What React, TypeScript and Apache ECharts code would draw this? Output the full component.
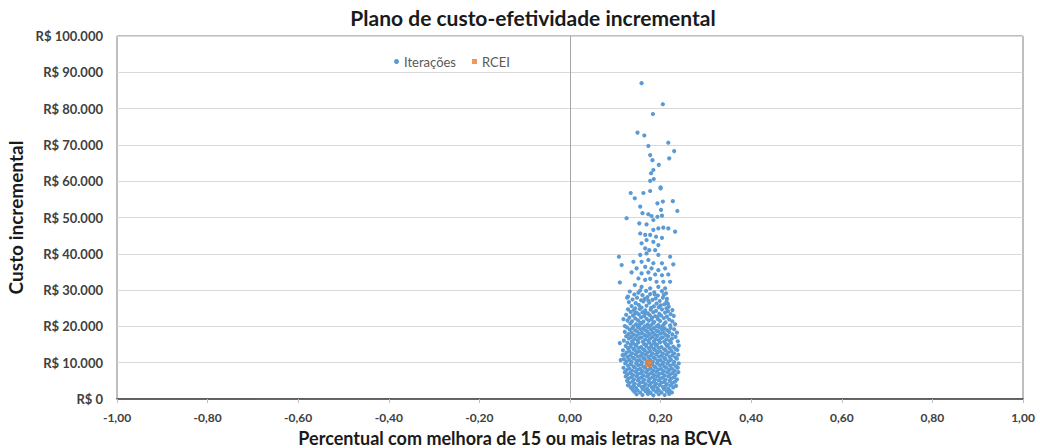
import React, { useEffect, useRef } from "react";
import * as echarts from "echarts";

const chartTitle = "Plano de custo-efetividade incremental";
const xAxisTitle = "Percentual com melhora de 15 ou mais letras na BCVA";
const yAxisTitle = "Custo incremental";
const seriesNames = ["Iterações", "RCEI"];

const xMin = -1;
const xMax = 1;
const xStep = 0.2;
const yMin = 0;
const yMax = 100000;
const yStep = 10000;

// Iterações: [efetividade incremental, custo incremental]
const pointsAbove55k: number[][] = [
  [0.158, 87000], [0.205, 81200], [0.183, 78500], [0.149, 73400], [0.164, 72600],
  [0.217, 70600], [0.173, 69700], [0.230, 68300], [0.177, 67200], [0.219, 66300],
  [0.182, 65800], [0.196, 64500], [0.184, 63100], [0.179, 62200], [0.185, 60600],
  [0.177, 60100], [0.200, 58300], [0.134, 56750], [0.162, 56750], [0.177, 57300],
  [0.200, 58000], [0.143, 55300],
];

const points30kTo55k: number[][] = [
  [0.193, 53900], [0.205, 54400], [0.227, 54500], [0.155, 53000], [0.201, 52100],
  [0.237, 51800], [0.160, 51200], [0.173, 50900], [0.180, 50400], [0.193, 50200],
  [0.203, 50500], [0.125, 49800], [0.184, 49300], [0.153, 48400], [0.169, 48100],
  [0.195, 47000], [0.206, 47200], [0.217, 47000], [0.184, 46600], [0.232, 46100],
  [0.155, 45600], [0.166, 45200], [0.177, 45200], [0.190, 44700], [0.203, 44400],
  [0.169, 43800], [0.184, 43300], [0.158, 42900], [0.195, 42400], [0.166, 41500],
  [0.175, 41000], [0.188, 41000], [0.155, 39700], [0.169, 40100], [0.195, 39700],
  [0.108, 39200], [0.221, 39200], [0.140, 37800], [0.158, 37800], [0.173, 38300],
  [0.184, 37400], [0.203, 37400], [0.114, 36900], [0.228, 37100], [0.147, 36000],
  [0.166, 36400], [0.180, 36000], [0.195, 35500], [0.210, 36000], [0.136, 34900],
  [0.158, 34600], [0.173, 34900], [0.188, 34300], [0.203, 34100], [0.217, 34300],
  [0.110, 32100], [0.151, 33200], [0.166, 32800], [0.177, 33100], [0.191, 32300],
  [0.206, 32300], [0.221, 32300], [0.143, 31400], [0.158, 30900], [0.177, 30500],
  [0.195, 30900], [0.210, 30500],
];

const points25kTo30k: number[][] = [
  [0.132, 29600], [0.151, 29300], [0.168, 29800], [0.186, 29400], [0.203, 29700],
  [0.212, 29100], [0.142, 28800], [0.160, 28600], [0.177, 28900], [0.194, 28500],
  [0.207, 28700], [0.128, 28200], [0.148, 27900], [0.171, 28100], [0.189, 27700],
  [0.205, 27900], [0.214, 27600], [0.138, 27400], [0.157, 27200], [0.165, 27600],
  [0.182, 27300], [0.198, 27000], [0.213, 26800], [0.130, 26700], [0.145, 26400],
  [0.162, 26900], [0.175, 26500], [0.191, 26300], [0.208, 26100], [0.152, 25900],
  [0.169, 25700], [0.185, 25500], [0.200, 25800], [0.218, 25400], [0.136, 25600],
  [0.158, 25200], [0.179, 25100], [0.196, 25300], [0.213, 25000], [0.144, 25000],
  [0.173, 27100], [0.187, 28800], [0.155, 29900], [0.216, 26200], [0.126, 27900],
];

const points20kTo25k: number[][] = [
  [0.128, 24700], [0.141, 24500], [0.154, 24800], [0.166, 24400], [0.178, 24600],
  [0.190, 24300], [0.203, 24700], [0.216, 24200], [0.226, 24500], [0.134, 24000],
  [0.147, 23800], [0.160, 23900], [0.172, 23600], [0.184, 23900], [0.197, 23500],
  [0.210, 23800], [0.222, 23400], [0.124, 23200], [0.139, 23000], [0.152, 23300],
  [0.164, 22900], [0.176, 23100], [0.188, 22800], [0.201, 23000], [0.214, 22700],
  [0.229, 22900], [0.131, 22400], [0.144, 22200], [0.157, 22500], [0.169, 22100],
  [0.181, 22400], [0.194, 22000], [0.207, 22300], [0.219, 21900], [0.127, 21600],
  [0.137, 21400], [0.150, 21700], [0.162, 21300], [0.174, 21600], [0.186, 21200],
  [0.199, 21500], [0.211, 21100], [0.226, 21400], [0.133, 20800], [0.146, 20600],
  [0.158, 20900], [0.171, 20500], [0.183, 20800], [0.195, 20400], [0.208, 20700],
  [0.221, 20300], [0.121, 20100], [0.140, 20000], [0.153, 20200], [0.165, 20000],
  [0.178, 20200], [0.191, 20000], [0.204, 20100], [0.232, 20600], [0.167, 23700],
  [0.180, 21900], [0.155, 21000], [0.193, 22600], [0.143, 23500], [0.118, 22000],
];

const points15kTo20k: number[][] = [
  [0.126, 19700], [0.138, 19500], [0.150, 19800], [0.161, 19400], [0.173, 19700],
  [0.185, 19500], [0.197, 19800], [0.209, 19400], [0.222, 19600], [0.132, 19100],
  [0.144, 18900], [0.156, 19200], [0.167, 18900], [0.179, 19100], [0.191, 18800],
  [0.203, 19100], [0.215, 18900], [0.230, 19200], [0.121, 18500], [0.136, 18300],
  [0.148, 18600], [0.159, 18200], [0.171, 18500], [0.183, 18300], [0.195, 18600],
  [0.207, 18200], [0.219, 18500], [0.236, 18300], [0.129, 17900], [0.141, 17700],
  [0.153, 18000], [0.165, 17600], [0.176, 17900], [0.188, 17700], [0.200, 18000],
  [0.212, 17600], [0.226, 17800], [0.124, 17300], [0.135, 17100], [0.147, 17400],
  [0.158, 17000], [0.170, 17300], [0.182, 17100], [0.193, 17400], [0.205, 17000],
  [0.217, 17300], [0.233, 17100], [0.130, 16700], [0.142, 16500], [0.154, 16800],
  [0.166, 16400], [0.177, 16700], [0.189, 16500], [0.201, 16800], [0.213, 16400],
  [0.225, 16600], [0.119, 16100], [0.137, 15900], [0.149, 16200], [0.161, 15800],
  [0.173, 16100], [0.185, 15900], [0.196, 16200], [0.208, 15800], [0.220, 16100],
  [0.238, 15900], [0.127, 15500], [0.140, 15300], [0.151, 15600], [0.163, 15200],
  [0.175, 15500], [0.187, 15300], [0.199, 15600], [0.211, 15200], [0.223, 15500],
  [0.134, 15000], [0.146, 14900], [0.168, 15000], [0.180, 14900], [0.192, 15000],
  [0.216, 14900], [0.110, 15400],
];

const points10kTo15k: number[][] = [
  [0.123, 14600], [0.134, 14400], [0.145, 14700], [0.157, 14300], [0.168, 14600],
  [0.179, 14400], [0.190, 14700], [0.202, 14300], [0.214, 14600], [0.228, 14400],
  [0.240, 14700], [0.128, 14000], [0.140, 13800], [0.151, 14100], [0.162, 13700],
  [0.174, 14000], [0.185, 13800], [0.196, 14100], [0.208, 13700], [0.220, 14000],
  [0.233, 13800], [0.117, 13400], [0.131, 13200], [0.143, 13500], [0.154, 13100],
  [0.165, 13400], [0.177, 13200], [0.188, 13500], [0.199, 13100], [0.211, 13400],
  [0.224, 13200], [0.237, 13500], [0.125, 12800], [0.137, 12600], [0.148, 12900],
  [0.160, 12500], [0.171, 12800], [0.182, 12600], [0.194, 12900], [0.205, 12500],
  [0.217, 12800], [0.230, 12600], [0.121, 12200], [0.133, 12000], [0.145, 12300],
  [0.156, 11900], [0.167, 12200], [0.179, 12000], [0.190, 12300], [0.202, 11900],
  [0.213, 12200], [0.226, 12000], [0.239, 12200], [0.127, 11600], [0.139, 11400],
  [0.150, 11700], [0.162, 11300], [0.173, 11600], [0.185, 11400], [0.196, 11700],
  [0.208, 11300], [0.220, 11600], [0.233, 11400], [0.119, 11000], [0.131, 10800],
  [0.142, 11100], [0.154, 10700], [0.165, 11000], [0.177, 10800], [0.188, 11100],
  [0.200, 10700], [0.211, 11000], [0.223, 10800], [0.236, 11100], [0.125, 10400],
  [0.136, 10200], [0.148, 10500], [0.159, 10100], [0.171, 10400], [0.183, 10200],
  [0.194, 10500], [0.206, 10100], [0.218, 10400], [0.230, 10200], [0.116, 12100],
  [0.112, 10700],
];

const points5kTo10k: number[][] = [
  [0.122, 9800], [0.134, 9600], [0.146, 9900], [0.157, 9500], [0.169, 9800],
  [0.181, 9600], [0.192, 9900], [0.204, 9500], [0.215, 9800], [0.228, 9600],
  [0.240, 9800], [0.128, 9200], [0.140, 9000], [0.151, 9300], [0.163, 8900],
  [0.175, 9200], [0.186, 9000], [0.198, 9300], [0.209, 8900], [0.221, 9200],
  [0.234, 9000], [0.118, 8600], [0.131, 8400], [0.143, 8700], [0.155, 8300],
  [0.166, 8600], [0.178, 8400], [0.189, 8700], [0.201, 8300], [0.213, 8600],
  [0.225, 8400], [0.238, 8600], [0.125, 8000], [0.137, 7800], [0.149, 8100],
  [0.160, 7700], [0.172, 8000], [0.184, 7800], [0.195, 8100], [0.207, 7700],
  [0.219, 8000], [0.231, 7800], [0.121, 7400], [0.133, 7200], [0.145, 7500],
  [0.156, 7100], [0.168, 7400], [0.180, 7200], [0.191, 7500], [0.203, 7100],
  [0.215, 7400], [0.227, 7200], [0.239, 7400], [0.127, 6800], [0.139, 6600],
  [0.150, 6900], [0.162, 6500], [0.174, 6800], [0.186, 6600], [0.197, 6900],
  [0.209, 6500], [0.221, 6800], [0.233, 6600], [0.123, 6200], [0.135, 6000],
  [0.147, 6300], [0.158, 5900], [0.170, 6200], [0.182, 6000], [0.193, 6300],
  [0.205, 5900], [0.217, 6200], [0.229, 6000], [0.129, 5600], [0.141, 5400],
  [0.152, 5700], [0.164, 5300], [0.176, 5600], [0.188, 5400], [0.199, 5700],
  [0.211, 5300], [0.223, 5600], [0.236, 5400],
];

const points0To5k: number[][] = [
  [0.126, 5000], [0.138, 4800], [0.150, 5100], [0.161, 4700], [0.173, 5000],
  [0.185, 4800], [0.196, 5100], [0.208, 4700], [0.220, 5000], [0.232, 4800],
  [0.131, 4400], [0.143, 4200], [0.155, 4500], [0.167, 4100], [0.179, 4400],
  [0.190, 4200], [0.202, 4500], [0.214, 4100], [0.226, 4400], [0.128, 3800],
  [0.140, 3600], [0.152, 3900], [0.163, 3500], [0.175, 3800], [0.187, 3600],
  [0.198, 3900], [0.210, 3500], [0.222, 3800], [0.234, 3600], [0.134, 3200],
  [0.146, 3000], [0.158, 3300], [0.170, 2900], [0.181, 3200], [0.193, 3000],
  [0.205, 3300], [0.217, 2900], [0.228, 3200], [0.138, 2600], [0.149, 2400],
  [0.161, 2700], [0.173, 2300], [0.184, 2600], [0.196, 2400], [0.208, 2700],
  [0.220, 2300], [0.142, 2000], [0.155, 1800], [0.167, 2100], [0.178, 1700],
  [0.190, 2000], [0.202, 1800], [0.214, 2100], [0.225, 1800], [0.147, 1300],
  [0.160, 1100], [0.172, 1400], [0.184, 1000], [0.196, 1300], [0.209, 1100],
  [0.219, 1400],
];

// RCEI: [efetividade incremental, custo incremental]
const rceiPoint: number[][] = [[0.174, 9800]];

const formatCurrency = (v: number) =>
  "R$ " + String(Math.round(v)).replace(/\B(?=(\d{3})+(?!\d))/g, ".");
const formatDecimal = (v: number) =>
  Math.abs(v) < 1e-9 ? "0,00" : v.toFixed(2).replace(".", ",");

const FONT = "Lato, 'Noto Sans', sans-serif";

export default function App() {
  const ref = useRef<HTMLDivElement>(null);

  useEffect(() => {
    if (!ref.current) return;
    const chart = echarts.init(ref.current, null, { renderer: "svg" });
    const iteracoes = [
      ...pointsAbove55k,
      ...points30kTo55k,
      ...points25kTo30k,
      ...points20kTo25k,
      ...points15kTo20k,
      ...points10kTo15k,
      ...points5kTo10k,
      ...points0To5k,
    ];
    chart.setOption({
      animation: false,
      backgroundColor: "#ffffff",
      textStyle: { fontFamily: FONT },
      title: {
        text: chartTitle,
        left: 533,
        textAlign: "center",
        top: 2,
        padding: [5, 0, 5, 0],
        textStyle: { fontFamily: FONT, fontSize: 21, fontWeight: "bold", color: "#1a1a1a" },
      },
      legend: {
        left: 389,
        top: 50,
        itemGap: 16,
        itemWidth: 5,
        itemHeight: 5,
        textStyle: { fontFamily: FONT, fontSize: 13, color: "#595959" },
        data: [
          { name: seriesNames[0], icon: "circle" },
          { name: seriesNames[1], icon: "rect" },
        ],
      },
      grid: {
        left: 117,
        right: 17,
        top: 36,
        bottom: 49,
        outerBoundsMode: "none",
        containLabel: false,
        show: true,
        borderColor: "#7f7f7f",
        borderWidth: 1,
        backgroundColor: "transparent",
      },
      xAxis: {
        type: "value",
        min: xMin,
        max: xMax,
        interval: xStep,
        name: xAxisTitle,
        nameLocation: "middle",
        nameGap: 21,
        nameTextStyle: {
          fontFamily: FONT,
          fontSize: 18,
          lineHeight: 20,
          fontWeight: "bold",
          color: "#1a1a1a",
          padding: [0, 110, 0, 0],
        },
        axisLine: { show: true, onZero: false, lineStyle: { color: "#404040", width: 1.5 } },
        axisTick: { show: true, length: 4, lineStyle: { color: "#bfbfbf" } },
        splitLine: { show: false },
        axisLabel: {
          margin: 12,
          fontFamily: FONT,
          fontSize: 12,
          fontWeight: "bold",
          color: "#404040",
          formatter: formatDecimal,
        },
      },
      yAxis: {
        type: "value",
        min: yMin,
        max: yMax,
        interval: yStep,
        name: yAxisTitle,
        nameLocation: "middle",
        nameGap: 90,
        nameTextStyle: { fontFamily: FONT, fontSize: 19, fontWeight: "bold", color: "#1a1a1a" },
        axisLine: { show: false },
        axisTick: { show: false },
        splitLine: { show: true, lineStyle: { color: "#d9d9d9", width: 1 } },
        axisLabel: {
          margin: 14,
          fontFamily: FONT,
          fontSize: 13,
          fontWeight: "bold",
          color: "#404040",
          formatter: formatCurrency,
        },
      },
      series: [
        {
          name: seriesNames[0],
          type: "scatter",
          data: iteracoes,
          symbol: "circle",
          symbolSize: 4.2,
          itemStyle: { color: "#5b9bd5", opacity: 1 },
          markLine: {
            silent: true,
            symbol: "none",
            label: { show: false },
            lineStyle: { color: "#a6a6a6", width: 1, type: "solid" },
            data: [{ xAxis: 0 }],
          },
          z: 2,
        },
        {
          name: seriesNames[1],
          type: "scatter",
          data: rceiPoint,
          symbol: "rect",
          symbolSize: 7,
          itemStyle: { color: "#ed7d31" },
          z: 5,
        },
      ],
    });
    return () => chart.dispose();
  }, []);

  return (
    <div
      ref={ref}
      style={{ position: "absolute", left: 0, top: 0, width: 1040, height: 448 }}
    />
  );
}
